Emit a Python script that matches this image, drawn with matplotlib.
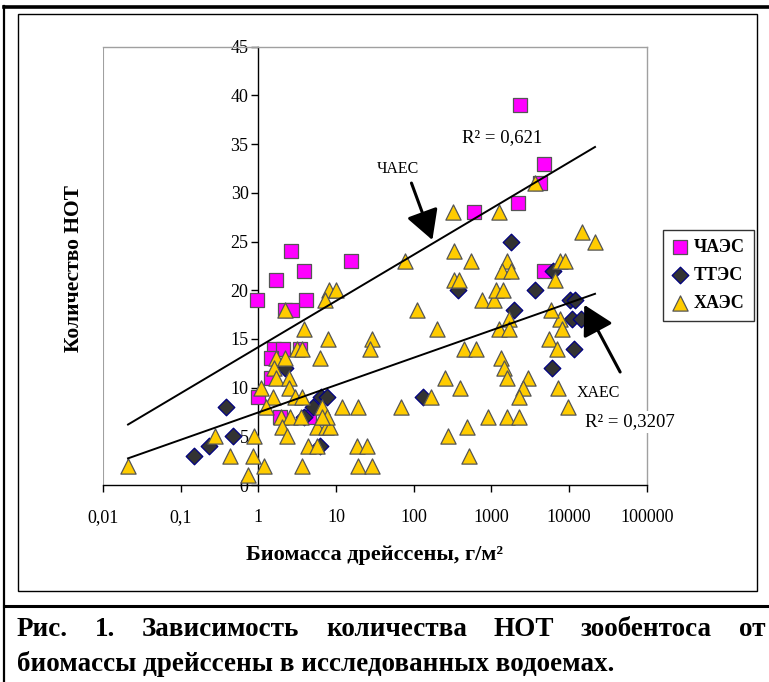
import numpy as np
import matplotlib
matplotlib.use("Agg")
import matplotlib.pyplot as plt
from matplotlib.lines import Line2D
from matplotlib.patches import Rectangle
from matplotlib.ticker import FixedLocator, FixedFormatter, NullLocator

plt.rcParams['font.family'] = ['Liberation Serif', 'DejaVu Serif']

# ---------------- data ----------------
chaes_x = [2.6, 15.5, 1.7, 3.9, 0.95, 4.05, 2.2, 2.7, 1.6, 2.1, 3.4, 1.44, 1.45, 1.0, 1.9, 4.5,
           2340, 4830, 4250, 2200, 590, 4830]
chaes_y = [24, 23, 21, 22, 19, 19, 18, 18, 14, 14, 14, 13, 11, 9, 7, 7,
           39, 33, 31, 29, 28, 22]

ttes_x = [0.149, 0.23, 0.38, 0.47, 2.2, 3.9, 5.0, 6.5, 7.7, 6.3, 368, 132, 1800, 6200, 3600,
          1970, 10300, 12000, 10900, 14200, 11600, 6000]
ttes_y = [3, 4, 8, 5, 12, 7, 8, 9, 9, 4, 20, 9, 25, 22, 20,
          18, 19, 19, 17, 17, 14, 12]

haes_x = [0.021, 0.28, 0.43, 0.74, 0.88, 0.86, 1.18, 1.07, 1.54, 1.24, 2.2, 3.9, 3.1, 3.6,
          1.67, 2.2, 1.6, 1.7, 2.5, 2.5, 3.0, 3.7, 1.93, 2.55, 3.5, 6.6, 12, 5.7, 7.5, 8.3,
          7.7, 6.6, 2.0, 2.36, 4.3, 5.7, 3.6, 6.3, 7.9, 8.1, 9.9, 7.3, 29, 27, 19, 69,
          18.7, 25, 19, 29, 78, 330, 330, 385, 110, 200, 440, 640, 255, 390, 167, 480,
          280, 510, 760, 1070, 1140, 1400, 1330, 1440, 1580, 3000, 2560, 2240, 910, 1580,
          2270, 7300, 9800, 5550, 6900, 7700, 8200, 5840, 6600, 3660, 1270, 320, 14600,
          21600, 548, 1580, 1370, 1800, 7700, 8900, 1700, 1270, 1700]
haes_y = [2, 5, 3, 1, 5, 3, 2, 10, 9, 8, 18, 16, 14, 14,
          13, 13, 12, 11, 11, 10, 9, 9, 7, 7, 7, 8, 8, 6, 6, 6,
          7, 7, 6, 5, 4, 4, 2, 13, 15, 20, 20, 19, 15, 14, 8, 8,
          4, 4, 2, 2, 23, 24, 21, 21, 18, 16, 14, 14, 11, 10, 9, 6,
          5, 3, 19, 19, 20, 20, 13, 12, 11, 11, 10, 9, 7, 7,
          7, 10, 8, 15, 14, 17, 16, 18, 21, 31, 28, 28, 26,
          25, 23, 23, 22, 22, 23, 23, 17, 16, 16]

# logarithmic trend lines y = a + b*log10(x)
trend_chaes = (14.16, 4.74)
trend_haes = (7.45, 2.81)
r2_chaes = "R² = 0,621"
r2_haes = "R² = 0,3207"

series_names = ["ЧАЭС", "ТТЭС", "ХАЭС"]
x_ticks = [0.01, 0.1, 1, 10, 100, 1000, 10000, 100000]
x_tick_labels = ["0,01", "0,1", "1", "10", "100", "1000", "10000", "100000"]
y_ticks = [0, 5, 10, 15, 20, 25, 30, 35, 40, 45]

caption_line1 = "Рис. 1. Зависимость количества НОТ зообентоса от"
caption_line2 = "биомассы дрейссены в исследованных водоемах."

# ---------------- figure ----------------
W, H = 769, 682
fig = plt.figure(figsize=(W / 100, H / 100), dpi=100)

def fx(px):
    return px / W

def fy(py):
    return 1 - py / H

# frame decorations
fig.add_artist(Line2D([fx(4), fx(4)], [fy(6), fy(682)], color='black', lw=1.6, transform=fig.transFigure))
fig.add_artist(Line2D([fx(4), fx(769)], [fy(7), fy(7)], color='black', lw=2.6, transform=fig.transFigure))
fig.add_artist(Line2D([fx(4), fx(769)], [fy(606), fy(606)], color='black', lw=2.2, transform=fig.transFigure))
fig.add_artist(Rectangle((fx(18), fy(591)), fx(757) - fx(18), fy(14) - fy(591), fill=False,
                         edgecolor='black', lw=1.0, transform=fig.transFigure))

# axes
left, right, top, bottom = 103, 646.7, 46.7, 485
ax = fig.add_axes([fx(left), fy(bottom), fx(right) - fx(left), fy(top) - fy(bottom)])
ax.set_xscale('log')
ax.set_xlim(0.01, 100000)
ax.set_ylim(0, 45)

ax.scatter(chaes_x, chaes_y, marker='s', s=90, facecolor='#FF00FF', edgecolor='#555555',
           linewidth=0.9, zorder=3, label=series_names[0])
ax.scatter(ttes_x, ttes_y, marker='D', s=72, facecolor='#333333', edgecolor='#000080',
           linewidth=0.9, zorder=4, label=series_names[1])
ax.scatter(haes_x, haes_y, marker='^', s=120, facecolor='#FFCC00', edgecolor='#555555',
           linewidth=0.9, zorder=5, label=series_names[2])

all_x = chaes_x + ttes_x + haes_x
tx = np.logspace(np.log10(min(all_x)), np.log10(max(all_x)), 100)
ax.plot(tx, trend_chaes[0] + trend_chaes[1] * np.log10(tx), color='black', lw=1.4, zorder=6)
ax.plot(tx, trend_haes[0] + trend_haes[1] * np.log10(tx), color='black', lw=1.4, zorder=6)

# spines
for s in ['top', 'right']:
    ax.spines[s].set_color('#A0A0A0')
    ax.spines[s].set_linewidth(1.0)
ax.spines['left'].set_position(('data', 1))
ax.spines['left'].set_color('black')
ax.spines['left'].set_linewidth(1.0)
ax.spines['bottom'].set_color('black')
ax.spines['bottom'].set_linewidth(1.0)
ax.axvline(0.01, color='#A0A0A0', lw=1.5, zorder=1)

ax.xaxis.set_major_locator(FixedLocator(x_ticks))
ax.xaxis.set_major_formatter(FixedFormatter(x_tick_labels))
ax.xaxis.set_minor_locator(NullLocator())
ax.yaxis.set_major_locator(FixedLocator(y_ticks))
ax.yaxis.set_minor_locator(NullLocator())
ax.tick_params(axis='x', direction='out', length=5, width=1, pad=12, labelsize=13)
ax.tick_params(axis='y', direction='out', length=5, width=1, pad=2, labelsize=13)

# annotations
arrow = dict(arrowstyle='-|>,head_length=0.9,head_width=0.5', color='black', lw=2.2,
             mutation_scale=20, shrinkA=0, shrinkB=0)
ax.annotate("", xy=(174, 25.15), xytext=(93.6, 31.0), arrowprops=arrow, zorder=7)
ax.text(62, 32.4, "ЧАЕС", fontsize=11.5, ha='center', va='center', zorder=7)
ax.annotate("", xy=(15700, 18.5), xytext=(45500, 11.6), arrowprops=arrow, zorder=7)
ax.text(23700, 9.45, "ХАЕС", fontsize=11.5, ha='center', va='center', zorder=7)
ax.text(1380, 35.7, r2_chaes, fontsize=13.5, ha='center', va='center', zorder=7)
ax.text(61000, 6.47, r2_haes, fontsize=13.5, ha='center', va='center', zorder=8,
        bbox=dict(facecolor='white', edgecolor='none', pad=1.5), clip_on=False)

# legend
leg = ax.legend(loc='upper left', bbox_to_anchor=(fx(663), fy(230)), bbox_transform=fig.transFigure,
                frameon=True, fancybox=False, shadow=False, edgecolor='black',
                prop={'weight': 'bold', 'size': 13}, handlelength=0.9, handletextpad=0.3,
                borderpad=0.5, labelspacing=0.6, borderaxespad=0, scatterpoints=1)
leg.get_frame().set_linewidth(1.0)

# axis labels
fig.text(fx(74), fy(268), "Количество НОТ", rotation=90, fontsize=15.5, fontweight='bold',
         ha='center', va='center')
fig.text(fx(375), fy(555), "Биомасса дрейссены, г/м²", fontsize=16, fontweight='bold',
         ha='center', va='center')

# caption (first line justified)
fig.canvas.draw()
r = fig.canvas.get_renderer()
words = caption_line1.split()
texts = [fig.text(0, fy(630), w, fontsize=19.5, fontweight='bold', ha='left', va='center') for w in words]
widths = [t.get_window_extent(r).width for t in texts]
gap = (765 - 17 - sum(widths)) / (len(words) - 1)
xpos = 17
for t, w in zip(texts, widths):
    t.set_x(fx(xpos))
    xpos += w + gap
fig.text(fx(17), fy(664), caption_line2, fontsize=19.5, fontweight='bold', ha='left', va='center')

fig.savefig("out.png", dpi=100)
